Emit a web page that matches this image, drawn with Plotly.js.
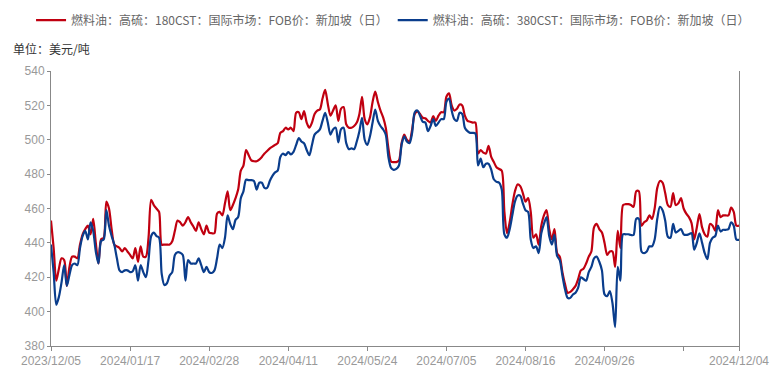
<!DOCTYPE html>
<html>
<head>
<meta charset="utf-8">
<script src="https://cdn.plot.ly/plotly-3.0.1.min.js"></script>
<style>
  html, body { margin: 0; padding: 0; background: #ffffff; }
  #chart { width: 773px; height: 374px; }
</style>
</head>
<body>
<div id="chart"></div>
<script>
// Series names
const seriesNames = [
  '燃料油：高硫：180CST：国际市场：FOB价：新加坡（日）',
  '燃料油：高硫：380CST：国际市场：FOB价：新加坡（日）'
];

// Axis tick labels (trading-day positions along the category axis)
const tickIndex  = [0, 30, 60, 90, 120, 150, 180, 210, 240, 261];
const tickLabels = ['2023/12/05', '2024/01/17', '2024/02/28', '2024/04/11', '2024/05/24',
                    '2024/07/05', '2024/08/16', '2024/09/26', '', '2024/12/04'];

// Daily values, USD/ton
const hsfo180 = [
  453, 437, 418, 425, 431, 430, 415, 426, 432, 432,
  431, 439, 445, 448, 450, 445, 454, 440, 428, 442,
  443, 464, 460, 448, 439, 438, 437, 435, 437, 435,
  433, 431, 437, 429, 438, 432, 432, 443, 465, 462,
  460, 458, 439, 439, 439, 439, 441, 447, 453, 452,
  450, 452, 455, 452, 449.5, 447, 452, 448, 445, 450,
  446, 445.6, 445.6, 457, 458, 456, 463, 470, 459, 462,
  466, 471, 482, 485, 494, 491, 488, 487.5, 487.5, 488.5,
  490, 492, 493.5, 495, 496, 497, 498, 504, 505, 507,
  506, 507, 505, 515.7, 516, 512, 516.6, 510, 507, 510,
  515, 517, 517.6, 524, 529, 521, 514, 517, 520, 511,
  518, 519, 509, 507, 507, 508, 510, 515, 525, 512,
  509, 513, 522, 528, 522, 517, 513, 507, 495, 487.4,
  487, 487, 488, 498, 503, 500, 499, 506, 515, 516.5,
  515, 512.8, 512.5, 511, 510, 513.7, 511, 514, 516, 516,
  525, 527, 520, 517, 518, 520.5, 520, 514, 511, 510.5,
  510, 510, 492, 494, 492.5, 492, 496.5, 490, 487, 484,
  483, 482, 458, 445.6, 452, 462, 470, 474, 473, 469,
  464, 466, 458, 443, 445, 439, 450, 456, 459, 448,
  442, 448, 434, 432, 423, 416, 411, 411.5, 413, 415,
  419, 424, 425, 428, 432, 435, 449, 451, 448, 446,
  440, 433, 435, 435, 426, 447, 437, 462, 462.5, 462.5,
  462, 461, 470, 470, 450, 452, 453, 456, 454, 460,
  472, 476, 475, 469, 462, 461, 469, 462, 463, 466,
  460, 457, 455, 451.5, 442, 449, 456.7, 449, 445, 443.6,
  451, 450, 447, 459, 455, 456, 456, 456, 460.5, 458,
  450, 450
];

const hsfo380 = [
  439, 423, 404, 408.6, 417, 427, 415, 421.3, 427, 428,
  427, 437, 444, 447, 442, 452, 447, 435, 428, 441,
  442, 459, 450, 444, 439, 431, 424, 423, 424, 424,
  423, 423.5, 427, 418, 427, 423, 420, 430, 444, 446,
  444, 443, 422, 415.5, 416.5, 421, 423, 433, 434.5, 434.3,
  433, 418, 430, 428, 428, 428, 431, 427, 423, 426,
  423, 422.5, 424, 431, 439, 437, 443, 456, 451, 448,
  453.4, 455, 466, 470, 476.8, 476.5, 476.5, 476, 471, 475,
  475, 472, 472, 476, 479, 481, 482, 490, 492, 491,
  492.8, 491.5, 493, 497, 501, 499, 498, 494, 491, 497,
  503, 504.5, 506, 511, 515.7, 510, 503, 506, 507, 498.5,
  506, 507, 498, 494.5, 495, 494.5, 499, 505, 512.8, 500,
  497, 502, 510, 517.6, 511, 508, 506, 503, 490, 483.6,
  482.5, 483, 485, 497, 502, 499, 498, 504, 516, 517,
  514, 510.5, 510, 505, 508, 512, 508, 510, 512, 512,
  522, 524, 517, 512, 511, 515.7, 515, 507, 505, 504,
  504, 503.6, 485, 489, 484, 486, 486, 482.6, 477, 475.5,
  475, 471, 445, 443, 448, 456, 464, 467.5, 467.5, 463,
  459, 458, 442, 437, 438, 434, 445.6, 451, 455, 444,
  439, 444.6, 432.4, 430, 421, 413, 408, 408, 410, 411,
  414, 420, 419, 418, 423, 426, 431, 432, 429, 424,
  410, 409, 412, 405, 391, 426, 418, 445, 445, 445,
  444.6, 444.6, 454, 454, 435, 434, 435, 438, 438, 442,
  454, 461, 459, 453, 443.6, 443, 451, 446, 447, 448,
  445, 444.6, 445, 445.6, 436, 440, 445.6, 440, 434, 430.5,
  440, 443, 444, 450, 446.6, 447.6, 447.6, 448, 452, 450,
  442, 441.7
];

const colors = ['#C00010', '#0A3D8C'];
const axisFont = { family: 'Liberation Sans, Arial, sans-serif', size: 12, color: '#999999' };
const cjkFont = 'Noto Sans CJK SC, sans-serif';

const traces = [hsfo180, hsfo380].map((vals, k) => ({
  type: 'scatter',
  mode: 'lines',
  name: seriesNames[k],
  y: vals,
  line: { color: colors[k], width: 2.2, shape: 'spline', smoothing: 0.8 },
  hoverinfo: 'y+name'
}));

const layout = {
  width: 773,
  height: 374,
  margin: { l: 51, r: 34, t: 71, b: 28, pad: 0, autoexpand: false },
  paper_bgcolor: '#ffffff',
  plot_bgcolor: '#ffffff',
  showlegend: true,
  legend: {
    orientation: 'h',
    xref: 'paper', yref: 'paper',
    x: -0.029, xanchor: 'left',
    y: 1.185, yanchor: 'middle',
    font: { family: cjkFont, size: 12, color: '#666666' },
    bgcolor: 'rgba(0,0,0,0)',
    itemclick: false, itemdoubleclick: false
  },
  xaxis: {
    range: [0, hsfo180.length - 1],
    tickmode: 'array',
    tickvals: tickIndex,
    ticktext: tickLabels,
    ticks: 'outside', ticklen: 4, tickcolor: '#888888', tickwidth: 1,
    showline: true, linecolor: '#888888', linewidth: 1,
    showgrid: false, zeroline: false,
    tickfont: axisFont,
    fixedrange: true
  },
  yaxis: {
    range: [380, 540],
    tick0: 380, dtick: 20,
    ticks: 'outside', ticklen: 3, tickcolor: '#888888', tickwidth: 1,
    showline: true, mirror: true, linecolor: '#888888', linewidth: 1,
    showgrid: false, zeroline: false,
    tickfont: axisFont,
    fixedrange: true
  },
  annotations: [{
    text: '单位：美元/吨',
    xref: 'paper', yref: 'paper',
    x: -0.058, xanchor: 'left',
    y: 1.08, yanchor: 'middle',
    showarrow: false,
    font: { family: cjkFont, size: 12, color: '#333333' }
  }]
};

Plotly.newPlot('chart', traces, layout, { displayModeBar: false, staticPlot: true });
</script>
</body>
</html>
